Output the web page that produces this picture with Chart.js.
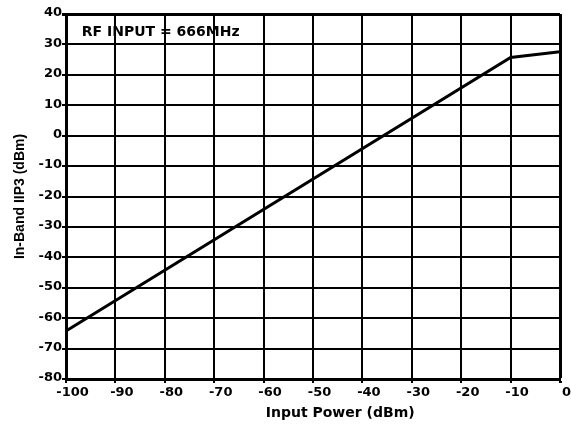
<!DOCTYPE html>
<html>
<head>
<meta charset="utf-8">
<script src="https://cdn.jsdelivr.net/npm/chart.js@4/dist/chart.umd.min.js"></script>
<style>
  html, body { margin: 0; padding: 0; background: #fff; }
  #wrap { width: 571px; height: 427px; }
</style>
</head>
<body>
<div id="wrap"><canvas id="c" width="571" height="427"></canvas></div>
<script>
// Data
const inputPower = [-100, -10, 0];          // dBm
const iip3 = [-64.2, 25.7, 27.6];           // dBm
const xTicks = [-100, -90, -80, -70, -60, -50, -40, -30, -20, -10, 0];
const yTicks = [-80, -70, -60, -50, -40, -30, -20, -10, 0, 10, 20, 30, 40];
const xTitle = 'Input Power (dBm)';
const yTitle = 'In-Band IIP3 (dBm)';
const noteText = 'RF INPUT = 666MHz';

const points = inputPower.map((x, i) => ({ x: x, y: iip3[i] }));

const tickFont = { family: 'DejaVu Sans', weight: 'bold', size: 13 };

const overlay = {
  id: 'overlay',
  afterDraw(chart) {
    const c = chart.ctx;
    const xs = chart.scales.x, ys = chart.scales.y;
    c.save();
    c.fillStyle = '#000';
    c.font = 'bold 14px "DejaVu Sans"';
    c.textBaseline = 'middle';
    c.textAlign = 'left';
    c.fillText(noteText, xs.getPixelForValue(-96.8), ys.getPixelForValue(34.1));
    c.textAlign = 'center';
    c.fillText(xTitle, xs.getPixelForValue(-44.5), 413);
    c.restore();
  }
};

new Chart(document.getElementById('c'), {
  type: 'scatter',
  data: {
    datasets: [{
      data: points,
      showLine: true,
      borderColor: '#000',
      borderWidth: 3,
      pointRadius: 0,
      tension: 0,
      fill: false
    }]
  },
  options: {
    responsive: false,
    devicePixelRatio: 1,
    animation: false,
    layout: { padding: { top: 14, right: 11, left: 0, bottom: 0 } },
    plugins: { legend: { display: false }, tooltip: { enabled: false } },
    scales: {
      x: {
        type: 'linear',
        min: -100, max: 0,
        afterBuildTicks(s) { s.ticks = xTicks.map(v => ({ value: v })); },
        afterFit(s) { s.height = 48; },
        ticks: { color: '#000', font: tickFont, padding: 2, labelOffset: 6.5, maxRotation: 0, autoSkip: false },
        grid: {
          color: '#000',
          lineWidth: ctx => (ctx.tick && ctx.tick.value === 0 ? 3 : 2),
          tickLength: 4
        },
        border: { color: '#000', width: 3 },
        title: { display: false }
      },
      y: {
        type: 'linear',
        min: -80, max: 40,
        afterBuildTicks(s) { s.ticks = yTicks.map(v => ({ value: v })); },
        afterFit(s) { s.width = 66; },
        ticks: { color: '#000', font: tickFont, padding: 0, labelOffset: -1, autoSkip: false },
        grid: {
          color: '#000',
          lineWidth: ctx => (ctx.tick && ctx.tick.value === 40 ? 3 : 2),
          tickLength: 4
        },
        border: { color: '#000', width: 3 },
        title: {
          display: true,
          text: yTitle,
          color: '#000',
          font: { family: 'Liberation Sans', weight: 'bold', size: 14 },
          padding: { top: 12, bottom: 0 }
        }
      }
    }
  },
  plugins: [overlay]
});
</script>
</body>
</html>
